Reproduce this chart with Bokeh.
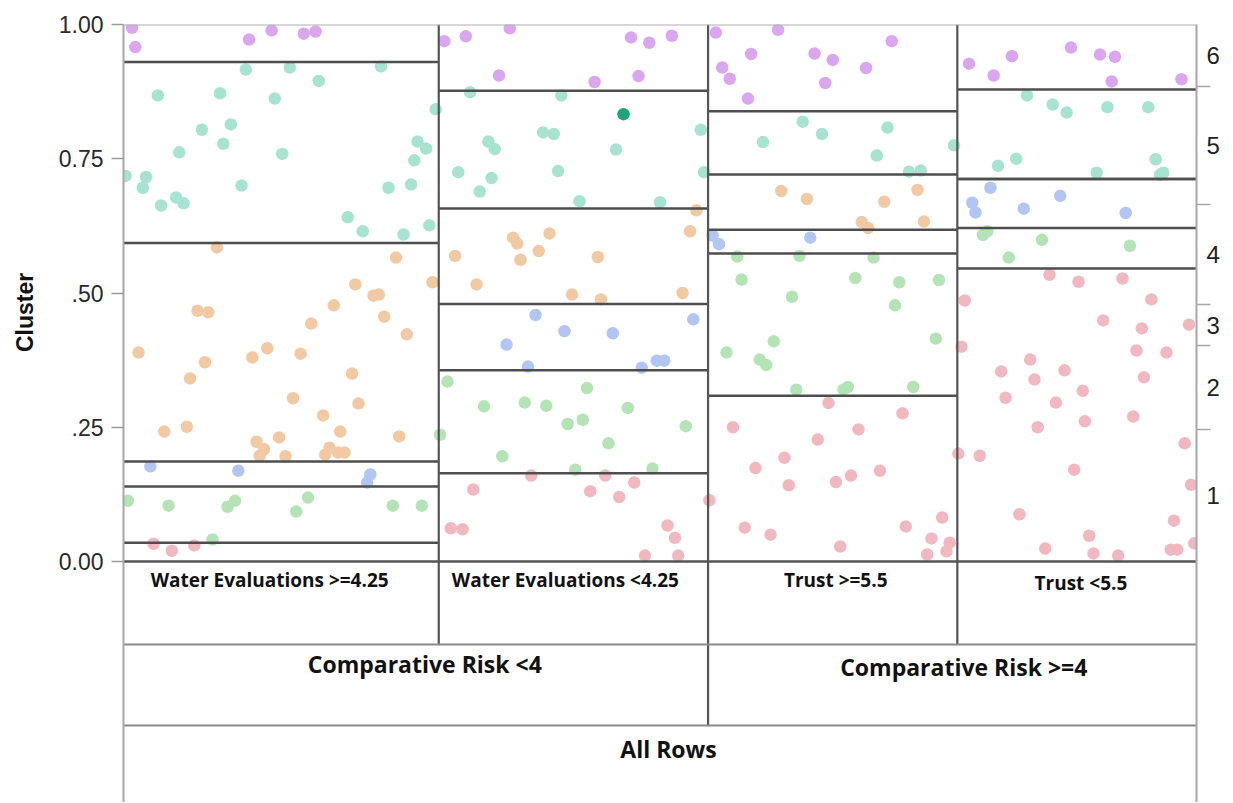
from bokeh.plotting import figure
from bokeh.layouts import row
from bokeh.models import Range1d, LinearAxis, FixedTicker, Span, ColumnDataSource
from bokeh.core.properties import value
from bokeh.embed import file_html
from bokeh.resources import INLINE
import math

# ---------------- data ----------------
clusters = ["1", "2", "3", "4", "5", "6"]
leaf_labels = ["Water Evaluations >=4.25", "Water Evaluations <4.25", "Trust >=5.5", "Trust <5.5"]
split_labels = ["Comparative Risk <4", "Comparative Risk >=4"]
split_leaves = [2, 2]
root_label = "All Rows"
y_title = "Cluster"
y_tick_values = [0.0, 0.25, 0.5, 0.75, 1.0]
y_tick_labels = ["0.00", ".25", ".50", "0.75", "1.00"]
leaf_share = [0.2938, 0.2510, 0.2323, 0.2229]

# cluster 6
c6_x = [0.008, 0.011, 0.117, 0.138, 0.168, 0.179,
        0.299, 0.319, 0.360, 0.350, 0.439, 0.473, 0.490, 0.511, 0.480,
        0.552, 0.610, 0.716, 0.585, 0.644, 0.661, 0.558, 0.565, 0.692, 0.654, 0.582,
        0.788, 0.811, 0.828, 0.883, 0.910, 0.924, 0.921, 0.986]
c6_y = [0.994, 0.958, 0.972, 0.989, 0.983, 0.987,
        0.969, 0.978, 0.993, 0.905, 0.893, 0.976, 0.966, 0.979, 0.904,
        0.985, 0.990, 0.969, 0.945, 0.946, 0.934, 0.920, 0.899, 0.919, 0.891, 0.862,
        0.927, 0.905, 0.941, 0.957, 0.944, 0.940, 0.894, 0.898]
# cluster 5
c5_x = [0.002, 0.021, 0.018, 0.032, 0.035, 0.052, 0.049, 0.056, 0.073, 0.090, 0.093, 0.100,
        0.110, 0.114, 0.141, 0.148, 0.155, 0.182, 0.209, 0.223, 0.240, 0.247, 0.261, 0.268,
        0.271, 0.274, 0.282, 0.285, 0.291,
        0.323, 0.408, 0.391, 0.401, 0.340, 0.346, 0.459, 0.538, 0.312, 0.343, 0.405, 0.332,
        0.425, 0.500, 0.541,
        0.633, 0.596, 0.651, 0.712, 0.702, 0.774, 0.732, 0.743,
        0.842, 0.866, 0.879, 0.917, 0.955, 0.815, 0.832, 0.962, 0.907, 0.966, 0.969]
c5_y = [0.718, 0.716, 0.696, 0.868, 0.663, 0.762, 0.678, 0.667, 0.804, 0.872, 0.778, 0.814,
        0.700, 0.916, 0.862, 0.759, 0.920, 0.895, 0.641, 0.615, 0.922, 0.696, 0.609, 0.702,
        0.747, 0.782, 0.769, 0.626, 0.842,
        0.874, 0.868, 0.799, 0.796, 0.782, 0.768, 0.767, 0.804, 0.725, 0.714, 0.727, 0.689,
        0.671, 0.669, 0.725,
        0.819, 0.781, 0.796, 0.808, 0.756, 0.775, 0.726, 0.728,
        0.868, 0.851, 0.836, 0.846, 0.846, 0.737, 0.750, 0.749, 0.724, 0.720, 0.724]
# cluster 4
c4_x = [0.087, 0.254, 0.288, 0.216, 0.233, 0.238, 0.069, 0.079, 0.196, 0.175, 0.243, 0.264,
        0.014, 0.076, 0.120, 0.134, 0.165, 0.062, 0.213, 0.158, 0.219, 0.186, 0.038, 0.059,
        0.124, 0.131, 0.127, 0.145, 0.151, 0.202, 0.257, 0.188, 0.192, 0.200, 0.206,
        0.534, 0.528, 0.309, 0.363, 0.367, 0.397, 0.387, 0.370, 0.442, 0.329, 0.418, 0.445, 0.521,
        0.613, 0.637, 0.709, 0.740, 0.688, 0.694, 0.746]
c4_y = [0.585, 0.566, 0.520, 0.516, 0.495, 0.497, 0.467, 0.464, 0.477, 0.443, 0.456, 0.423,
        0.389, 0.371, 0.380, 0.397, 0.387, 0.341, 0.350, 0.304, 0.294, 0.272, 0.242, 0.251,
        0.223, 0.209, 0.197, 0.231, 0.196, 0.242, 0.233, 0.199, 0.212, 0.203, 0.203,
        0.654, 0.615, 0.569, 0.603, 0.592, 0.611, 0.578, 0.562, 0.567, 0.516, 0.497, 0.488, 0.500,
        0.690, 0.675, 0.670, 0.692, 0.632, 0.621, 0.633]
# cluster 3
c3_x = [0.025, 0.107, 0.230, 0.227,
        0.384, 0.411, 0.456, 0.357, 0.531, 0.377, 0.483, 0.497, 0.504,
        0.549, 0.555, 0.640,
        0.808, 0.791, 0.794, 0.839, 0.873, 0.934]
c3_y = [0.177, 0.169, 0.162, 0.147,
        0.459, 0.429, 0.425, 0.404, 0.451, 0.363, 0.361, 0.374, 0.374,
        0.607, 0.591, 0.603,
        0.696, 0.668, 0.650, 0.657, 0.681, 0.649]
# cluster 2
c2_x = [0.004, 0.042, 0.097, 0.104, 0.161, 0.172, 0.251, 0.278, 0.083,
        0.302, 0.336, 0.374, 0.394, 0.432, 0.470, 0.414, 0.428, 0.524, 0.452, 0.353, 0.421,
        0.493, 0.295,
        0.572, 0.630, 0.699, 0.576, 0.682, 0.723, 0.760, 0.623, 0.719, 0.606, 0.562, 0.593,
        0.599, 0.757, 0.627, 0.671, 0.675, 0.736,
        0.805, 0.801, 0.856, 0.825, 0.938]
c2_y = [0.113, 0.104, 0.102, 0.113, 0.093, 0.119, 0.104, 0.104, 0.041,
        0.335, 0.289, 0.296, 0.290, 0.323, 0.286, 0.256, 0.264, 0.252, 0.220, 0.196, 0.171,
        0.173, 0.236,
        0.568, 0.569, 0.566, 0.525, 0.528, 0.520, 0.524, 0.493, 0.477, 0.410, 0.389, 0.376,
        0.366, 0.415, 0.320, 0.320, 0.325, 0.325,
        0.615, 0.608, 0.599, 0.566, 0.588]
# cluster 1
c1_x = [0.028, 0.045, 0.066,
        0.380, 0.449, 0.476, 0.326, 0.435, 0.462, 0.305, 0.316, 0.507, 0.514, 0.486, 0.517,
        0.657, 0.726, 0.568, 0.685, 0.647, 0.616, 0.589, 0.705, 0.678, 0.664, 0.620, 0.546,
        0.579, 0.603, 0.729, 0.763, 0.753, 0.770, 0.767, 0.749, 0.668,
        0.863, 0.890, 0.931, 0.958, 0.784, 0.781, 0.913, 0.949, 0.993, 0.845, 0.818, 0.849,
        0.877, 0.944, 0.972, 0.951, 0.822, 0.869, 0.894, 0.896, 0.941, 0.852, 0.989, 0.798,
        0.778, 0.886, 0.995, 0.835, 0.979, 0.900, 0.859, 0.904, 0.927, 0.976, 0.982, 0.998]
c1_y = [0.033, 0.020, 0.030,
        0.160, 0.160, 0.147, 0.134, 0.131, 0.120, 0.062, 0.060, 0.067, 0.044, 0.011, 0.011,
        0.295, 0.276, 0.250, 0.246, 0.227, 0.193, 0.174, 0.169, 0.160, 0.148, 0.142, 0.114,
        0.063, 0.050, 0.065, 0.082, 0.043, 0.035, 0.019, 0.013, 0.028,
        0.534, 0.521, 0.527, 0.488, 0.486, 0.400, 0.449, 0.434, 0.441, 0.376, 0.354, 0.339,
        0.356, 0.393, 0.389, 0.343, 0.305, 0.296, 0.318, 0.261, 0.270, 0.250, 0.220, 0.197,
        0.201, 0.171, 0.143, 0.088, 0.076, 0.048, 0.024, 0.015, 0.011, 0.022, 0.022, 0.034]
# one selected (highlighted) row, cluster 5
selected_x = [0.466]
selected_y = [0.833]
selected_cluster = "5"

# ---------------- styles / geometry ----------------
cluster_colors = {"1": "#f1b8c2", "2": "#b4e4b5", "3": "#b2c5f3",
                  "4": "#f1c9a3", "5": "#a7e3d1", "6": "#d9a6ef"}
selected_color = "#1aa57b"
UNIT = 537                 # px for y from 0 to 1
TOP = 24                   # frame top
TOTAL_H = 802
FRAME_W = 1073
FRAME_H = TOTAL_H - TOP
LABEL_W = 40               # side panel holding the y title
MAIN_LEFT = 123 - LABEL_W
MAIN_W = 1232 - LABEL_W
ROW1, ROW2 = 83, 164       # px below y=0 of the label rows' lower edges

cx = {"1": c1_x, "2": c2_x, "3": c3_x, "4": c4_x, "5": c5_x, "6": c6_x}
cy = {"1": c1_y, "2": c2_y, "3": c3_y, "4": c4_y, "5": c5_y, "6": c6_y}

edges = [0.0]
for s in leaf_share:
    edges.append(edges[-1] + s)
edges = [e / edges[-1] for e in edges]
n_leaf = len(leaf_labels)


def leaf_of(x):
    for i in range(n_leaf):
        if x < edges[i + 1]:
            return i
    return n_leaf - 1


counts = [[0] * len(clusters) for _ in range(n_leaf)]
for k, c in enumerate(clusters):
    xs = cx[c] + (selected_x if c == selected_cluster else [])
    for x in xs:
        counts[leaf_of(x)][k] += 1

y_min = -(FRAME_H - UNIT) / UNIT
r1 = -ROW1 / UNIT
r2 = -ROW2 / UNIT

p = figure(width=MAIN_W, height=TOTAL_H, title=None,
           x_range=Range1d(0, 1), y_range=Range1d(y_min, 1),
           min_border_left=MAIN_LEFT, min_border_right=MAIN_W - MAIN_LEFT - FRAME_W,
           min_border_top=TOP, min_border_bottom=0,
           x_axis_location=None, y_axis_location=None,
           output_backend="svg", toolbar_location=None)
p.outline_line_color = None
p.grid.visible = False
p.background_fill_color = "white"
p.border_fill_color = "white"

# points
px, py, pc = [], [], []
for c in clusters:
    px += cx[c]
    py += cy[c]
    pc += [cluster_colors[c]] * len(cx[c])
src = ColumnDataSource(dict(x=px, y=py, color=pc))
p.scatter("x", "y", source=src, size=12.5, fill_color="color", line_color=None)
p.scatter(selected_x, selected_y, size=12.5, fill_color=selected_color, line_color=None)

# band boundaries inside each leaf
bx0, bx1, by = [], [], []
for i in range(n_leaf):
    tot = sum(counts[i])
    cum = 0
    for k in range(len(clusters) - 1):
        cum += counts[i][k]
        bx0.append(edges[i])
        bx1.append(edges[i + 1])
        by.append(cum / tot)
p.segment(x0=bx0, y0=by, x1=bx1, y1=by, line_color="#4e4e4e", line_width=2.5)

# leaf dividers
split_edges = []
acc = 0
for n in split_leaves[:-1]:
    acc += n
    split_edges.append(acc)
vx, vy1 = [], []
for i in range(1, n_leaf):
    vx.append(edges[i])
    vy1.append(r2 if i in split_edges else r1)
p.segment(x0=vx, y0=[1] * len(vx), x1=vx, y1=vy1, line_color="#555555", line_width=2.2)

# horizontal row lines
p.segment(x0=[0], y0=[0], x1=[1], y1=[0], line_color="#555555", line_width=2.5)
p.segment(x0=[0, 0], y0=[r1, r2], x1=[1, 1], y1=[r1, r2], line_color="#8a8a8a", line_width=2)

p.add_layout(Span(location=1, dimension="width", line_color="#b0b0b0", line_width=2))

# labels in the rows
leaf_cx = [(edges[i] + edges[i + 1]) / 2 for i in range(n_leaf)]
leaf_dx = [-11.5, -8, 3, 4]
leaf_base = [18, 18, 18, 21]
p.text(x=[leaf_cx[i] + leaf_dx[i] / FRAME_W for i in range(n_leaf)],
       y=[-b / UNIT for b in leaf_base], text=leaf_labels,
       text_font=value("Open Sans"), text_font_style="bold", text_font_size="19px",
       text_align="center", text_baseline="alphabetic", text_color="#111111")

sx, acc = [], 0
for n in split_leaves:
    sx.append((edges[acc] + edges[acc + n]) / 2)
    acc += n
split_dx = [9, 11.5]
split_base = [102, 105]
p.text(x=[sx[i] + split_dx[i] / FRAME_W for i in range(len(split_labels))],
       y=[-b / UNIT for b in split_base], text=split_labels,
       text_font=value("Open Sans"), text_font_style="bold", text_font_size="23px",
       text_align="center", text_baseline="alphabetic", text_color="#111111")
p.text(x=[0.5 + 8.5 / FRAME_W], y=[-187 / UNIT], text=[root_label],
       text_font=value("Open Sans"), text_font_style="bold", text_font_size="23px",
       text_align="center", text_baseline="alphabetic", text_color="#111111")

# left axis
yl = LinearAxis(ticker=FixedTicker(ticks=y_tick_values),
                major_label_overrides={v: t for v, t in zip(y_tick_values, y_tick_labels)})
yl.major_tick_out = 12
yl.major_tick_in = 0
yl.major_tick_line_color = "#9a9a9a"
yl.major_tick_line_width = 1.5
yl.minor_tick_line_color = None
yl.axis_line_color = "#a8a8a8"
yl.axis_line_width = 2
yl.major_label_standoff = 8
yl.major_label_text_font = "Liberation Sans"
yl.major_label_text_font_size = "23px"
yl.major_label_text_color = "#2a2a2a"
p.add_layout(yl, "left")

# right axis: overall cluster shares
tot_all = sum(sum(r) for r in counts)
bounds, mids, cum = [], [], 0
for k in range(len(clusters)):
    lo = cum / tot_all
    cum += sum(counts[i][k] for i in range(n_leaf))
    hi = cum / tot_all
    mids.append(round((lo + hi) / 2, 6))
    if k < len(clusters) - 1:
        bounds.append(hi)
yr = LinearAxis(ticker=FixedTicker(ticks=mids, minor_ticks=bounds),
                major_label_overrides={m: c for m, c in zip(mids, clusters)})
yr.major_tick_line_color = None
yr.major_tick_out = 0
yr.major_tick_in = 0
yr.minor_tick_out = 14
yr.minor_tick_in = 0
yr.minor_tick_line_color = "#a8a8a8"
yr.minor_tick_line_width = 1.5
yr.axis_line_color = "#a8a8a8"
yr.axis_line_width = 2
yr.major_label_standoff = -4
yr.major_label_text_font = "Liberation Sans"
yr.major_label_text_font_size = "24px"
yr.major_label_text_color = "#222222"
p.add_layout(yr, "right")

# side panel with the y title
t = figure(width=LABEL_W, height=TOTAL_H, title=None,
           x_range=Range1d(0, 1), y_range=Range1d(y_min, 1),
           min_border_left=0, min_border_right=0, min_border_top=TOP, min_border_bottom=0,
           x_axis_location=None, y_axis_location=None,
           output_backend="svg", toolbar_location=None)
t.outline_line_color = None
t.grid.visible = False
t.text(x=[24 / LABEL_W], y=[(561 - 312) / UNIT], text=[y_title], angle=math.pi / 2,
       text_font=value("Liberation Sans"), text_font_style="bold", text_font_size="23px",
       text_align="center", text_baseline="middle", text_color="#111111")

layout = row(t, p, spacing=0)
open("out.html", "w").write(file_html(layout, INLINE))
